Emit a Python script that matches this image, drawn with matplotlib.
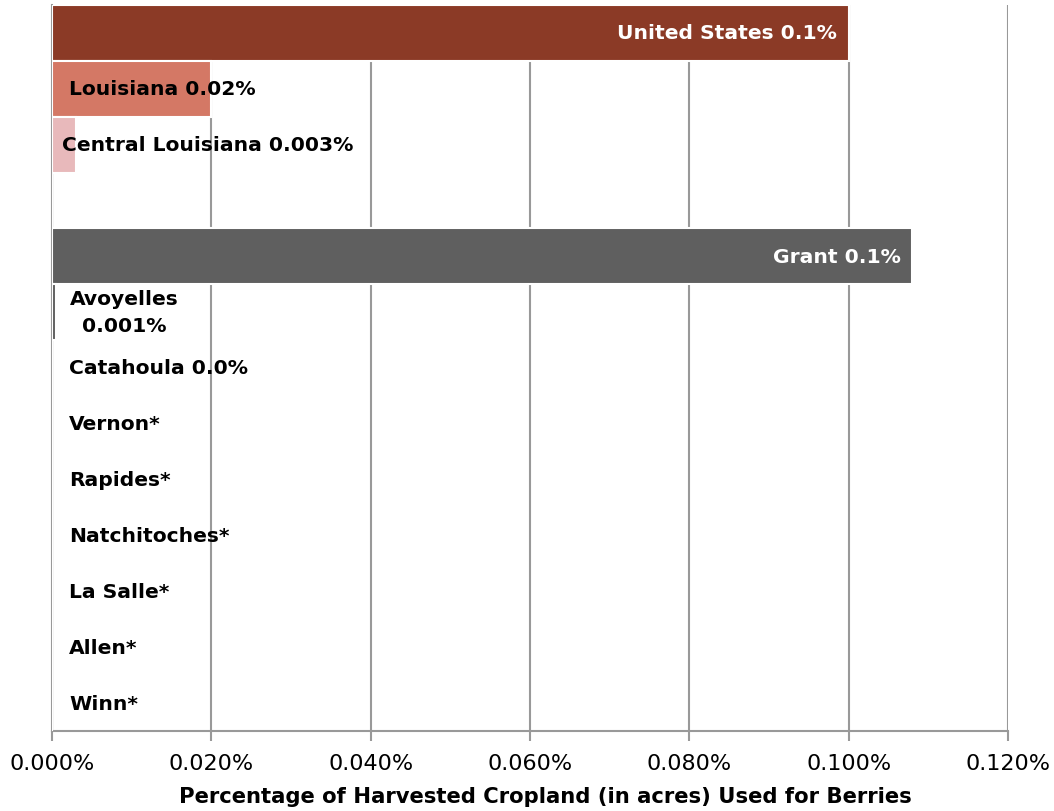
import matplotlib
matplotlib.use("Agg")
import matplotlib.pyplot as plt
from matplotlib.ticker import FuncFormatter, MultipleLocator

categories = ["United States", "Louisiana", "Central Louisiana", "",
              "Grant", "Avoyelles", "Catahoula", "Vernon", "Rapides",
              "Natchitoches", "La Salle", "Allen", "Winn"]
values = [0.100, 0.020, 0.003, 0.0,
          0.108, 0.0005, 0.0, 0.0, 0.0, 0.0, 0.0, 0.0, 0.0]
labels = ["United States 0.1%", "Louisiana 0.02%", "Central Louisiana 0.003%", "",
          "Grant 0.1%", "Avoyelles\n0.001%", "Catahoula 0.0%", "Vernon*", "Rapides*",
          "Natchitoches*", "La Salle*", "Allen*", "Winn*"]
colors = ["#8B3A26", "#D47865", "#E8B9BB", "none",
          "#5F5F5F", "#5F5F5F", "#5F5F5F", "#5F5F5F", "#5F5F5F",
          "#5F5F5F", "#5F5F5F", "#5F5F5F", "#5F5F5F"]

plt.rcParams['font.family'] = ['DejaVu Sans']

fig = plt.figure(figsize=(10.54, 8.12), dpi=100)
ax = fig.add_axes([52/1054, 1-732/812, (1008-52)/1054, (732-6)/812])

pos = list(range(len(categories)))
bars = ax.barh(pos, values, height=1.0, color=colors, edgecolor="white",
               linewidth=1.5, zorder=3)

ax.set_xlim(0, 0.12)
ax.set_ylim(len(categories) - 0.5, -0.5)
ax.xaxis.set_major_locator(MultipleLocator(0.02))
ax.xaxis.set_major_formatter(FuncFormatter(lambda v, p: f"{v:.3f}%"))
ax.set_yticks([])
ax.grid(axis="x", color="#999999", linewidth=1.5, zorder=0)
for s in ["top", "right"]:
    ax.spines[s].set_visible(False)
for s in ["left", "bottom"]:
    ax.spines[s].set_color("#999999")
    ax.spines[s].set_linewidth(1.5)
ax.tick_params(axis="x", direction="out", length=7, width=1.5, color="#999999",
               labelsize=16, pad=9)
ax.set_xlabel("Percentage of Harvested Cropland (in acres) Used for Berries",
              fontsize=15.2, fontweight="bold")
ax.xaxis.set_label_coords((545 - 52) / (1008 - 52), -(797 - 732) / (732 - 6))
ax.xaxis.label.set_va("center")

px = 72 / 100.0  # points per pixel
fs = 14.6
for i, (v, lab) in enumerate(zip(values, labels)):
    if not lab:
        continue
    if i in (0, 4):
        ax.annotate(lab, xy=(v, i), xytext=(-12 * px, 0), textcoords="offset points",
                    ha="right", va="center", color="white", fontsize=fs,
                    fontweight="bold", zorder=5)
    elif i == 2:
        ax.annotate(lab, xy=(0, i), xytext=(10 * px, 0), textcoords="offset points",
                    ha="left", va="center", color="black", fontsize=fs,
                    fontweight="bold", zorder=5)
    elif i == 5:
        ax.annotate(lab, xy=(0, i), xytext=(72 * px, 0), textcoords="offset points",
                    ha="center", va="center", color="black", fontsize=fs,
                    fontweight="bold", zorder=5, multialignment="center",
                    linespacing=1.55)
    else:
        ax.annotate(lab, xy=(0, i), xytext=(17 * px, 0), textcoords="offset points",
                    ha="left", va="center", color="black", fontsize=fs,
                    fontweight="bold", zorder=5)

fig.savefig("out.png", dpi=100)
